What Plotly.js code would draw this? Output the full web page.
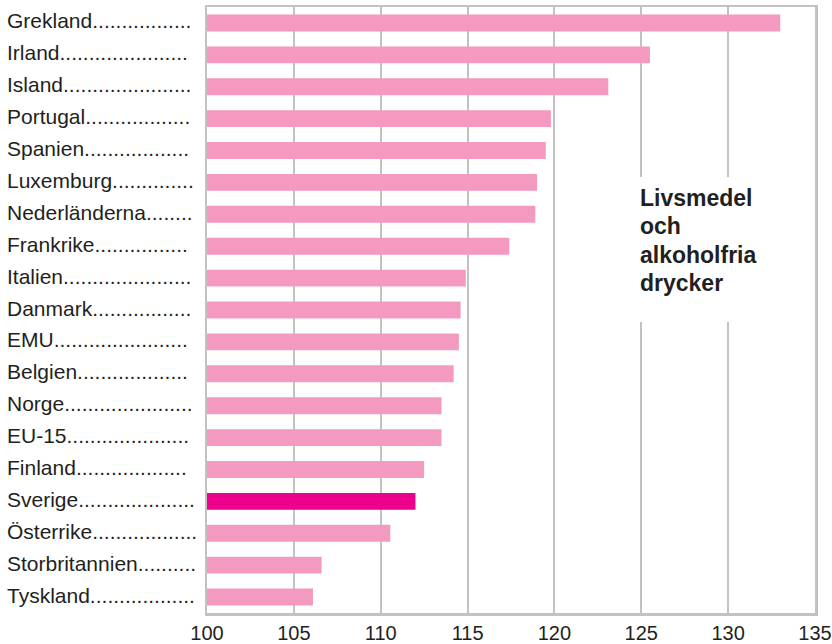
<!DOCTYPE html>
<html>
<head>
<meta charset="utf-8">
<script src="https://cdn.plot.ly/plotly-3.0.1.min.js"></script>
<style>html,body{margin:0;padding:0;background:#fff;}#chart{width:832px;height:644px;}</style>
</head>
<body>
<div id="chart"></div>
<script>
const countries = ["Grekland","Irland","Island","Portugal","Spanien","Luxemburg","Nederländerna","Frankrike","Italien","Danmark","EMU","Belgien","Norge","EU-15","Finland","Sverige","Österrike","Storbritannien","Tyskland"];
const dotCounts = [17,22,22,18,18,14,8,16,22,17,23,19,22,21,19,20,18,10,18];
const values = [133.0,125.5,123.1,119.8,119.5,119.0,118.9,117.4,114.9,114.6,114.5,114.2,113.5,113.5,112.5,112.0,110.55,106.6,106.1];
const highlight = "Sverige";
const xTicks = [100,105,110,115,120,125,130,135];
const noteLines = ["Livsmedel","och","alkoholfria","drycker"];

const colors = countries.map(c => c === highlight ? "#ec008c" : "#f49ac1");
const labels = countries.map((c,i) => c + ".".repeat(dotCounts[i]));

const L = 207, R = 17, T = 7, B = 31;
const pw = 832 - L - R, ph = 644 - T - B;
const FONT = "Liberation Sans, Arial, sans-serif";

const annotations = countries.map((c,i) => ({
  xref: "paper", yref: "y",
  x: (5 - L) / pw, y: c,
  xanchor: "left", yanchor: "middle",
  yshift: 2,
  text: labels[i], showarrow: false,
  font: {family: FONT, size: 21, color: "#231f20"}
}));
noteLines.forEach((t,i) => {
  const baseline = 205.5 + i * 28.5;
  annotations.push({
    xref: "paper", yref: "paper",
    x: (638 - L) / pw, y: (644 - B - baseline) / ph,
    xanchor: "left", yanchor: "middle", align: "left",
    yshift: 8,
    text: "<b>" + t + "</b>", showarrow: false,
    font: {family: FONT, size: 23, color: "#231f20"}
  });
});

const trace = {
  type: "bar", orientation: "h",
  x: values, y: countries,
  marker: {color: colors},
  hoverinfo: "none"
};

const layout = {
  width: 832, height: 644,
  margin: {l: L, r: R, t: T, b: B, pad: 0},
  paper_bgcolor: "#fff", plot_bgcolor: "#fff",
  showlegend: false,
  bargap: 0.47,
  xaxis: {
    range: [100, 135], tickvals: xTicks, ticktext: xTicks.map(String),
    showgrid: true, gridcolor: "#c2c2c2", gridwidth: 2,
    showline: true, mirror: true, linecolor: "#c2c2c2", linewidth: 2.5,
    zeroline: false, ticks: "",
    tickfont: {family: FONT, size: 20, color: "#231f20"}
  },
  yaxis: {
    categoryorder: "array", categoryarray: countries, autorange: "reversed",
    showticklabels: false, showgrid: false, zeroline: false,
    showline: true, mirror: true, linecolor: "#c2c2c2", linewidth: 2.5, ticks: ""
  },
  shapes: [{
    type: "rect", xref: "paper", yref: "paper", layer: "above",
    x0: (632 - L) / pw, x1: (800 - L) / pw,
    y0: (644 - B - 322) / ph, y1: (644 - B - 177) / ph,
    fillcolor: "#fff", line: {width: 0}
  }],
  annotations: annotations
};

Plotly.newPlot("chart", [trace], layout, {staticPlot: true, displayModeBar: false});
</script>
</body>
</html>
